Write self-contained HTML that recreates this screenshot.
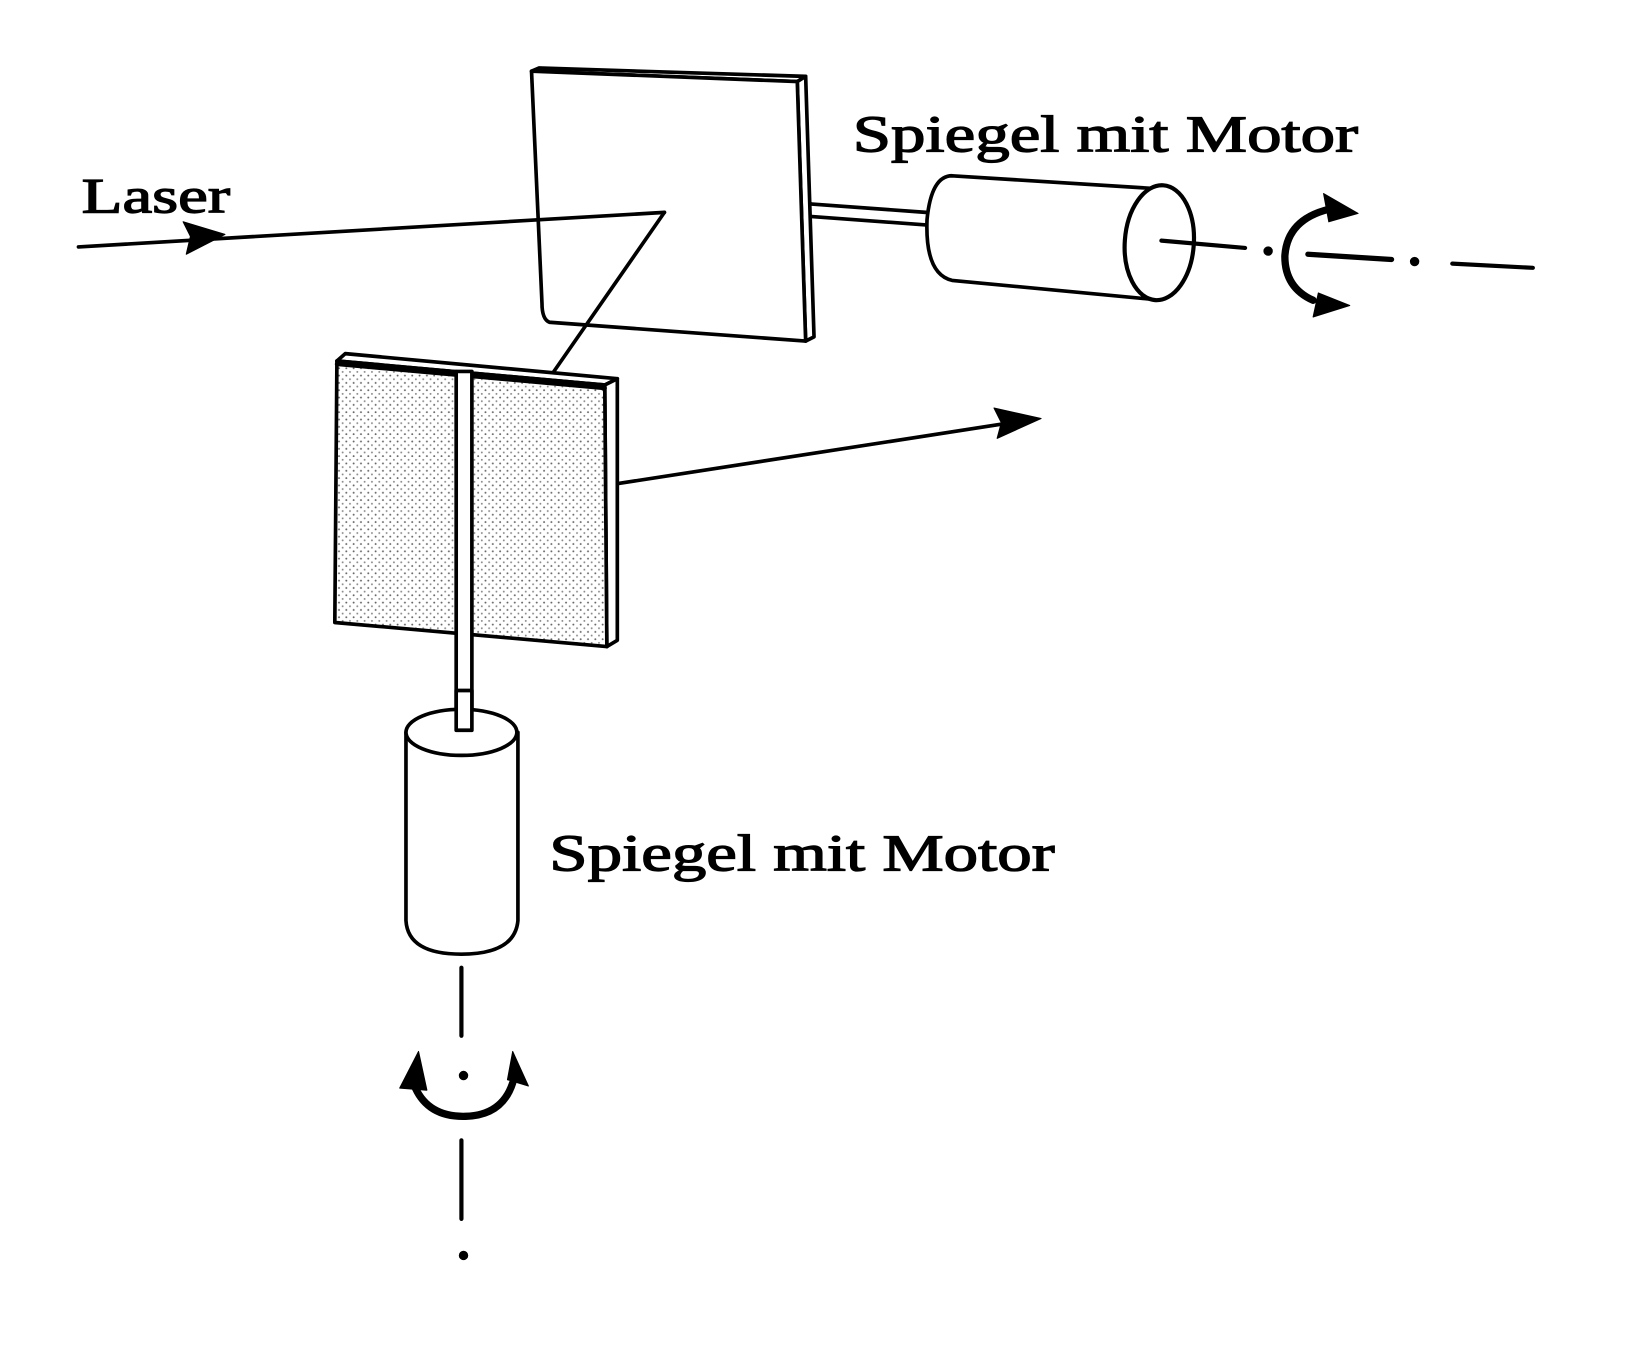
<!DOCTYPE html>
<html><head><meta charset="utf-8"><style>html,body{margin:0;padding:0;background:#fff}svg{display:block}</style></head>
<body>
<svg width="1627" height="1358" viewBox="0 0 1555 1298" preserveAspectRatio="none" xmlns="http://www.w3.org/2000/svg">
<defs>
<pattern id="dots" width="7" height="7" patternUnits="userSpaceOnUse"><rect width="7" height="7" fill="#fff"/><circle cx="2" cy="2" r="0.9" fill="#666"/><circle cx="5.5" cy="5.5" r="0.9" fill="#888"/></pattern>
</defs>
<g fill="none" stroke="#000" stroke-linejoin="round" stroke-linecap="round">
<polygon points="508,68 515,65 770,73 762,78" fill="#fff" stroke-width="3.5"/>
<polygon points="762,78 770,73 778,322 770,326" fill="#fff" stroke-width="3.5"/>
<path d="M508,68 L762,78 L770,326 L525,308 Q518,305 518,290 Z" fill="#fff" stroke-width="3.5"/>
<line x1="776" y1="195" x2="885" y2="203" stroke-width="3.5"/>
<line x1="776" y1="207" x2="885" y2="215" stroke-width="3.5"/>
<line x1="75" y1="236" x2="635" y2="203" stroke-width="3.5"/>
<polygon points="215,224 175,212 182,226 178,243" fill="#000" stroke-width="1"/>
<line x1="635" y1="203" x2="528" y2="357" stroke-width="3.5"/>
<path d="M1100,180 L910,168 Q890,168 886,210 Q884,262 910,268 L1100,286" fill="#fff" stroke-width="3.5"/>
<ellipse cx="1108" cy="232" rx="33" ry="55" transform="rotate(4 1108 232)" fill="#fff" stroke-width="4"/>
<line x1="1110" y1="230" x2="1190" y2="237" stroke-width="4"/>
<circle cx="1212" cy="240" r="4" fill="#000"/>
<line x1="1250" y1="243" x2="1330" y2="248" stroke-width="5"/>
<circle cx="1352" cy="250" r="4" fill="#000"/>
<line x1="1388" y1="252" x2="1465" y2="256" stroke-width="4"/>
<path d="M1270,200 Q1230,210 1228,245 Q1228,275 1255,287" stroke-width="7"/>
<polygon points="1298,204 1265,185 1270,212" fill="#000" stroke-width="1"/>
<polygon points="1290,292 1260,280 1255,303" fill="#000" stroke-width="1"/>
<polygon points="322,345 330,338 590,362 578,368" fill="#fff" stroke-width="3.5"/>
<polygon points="578,368 590,362 590,612 580,618" fill="#fff" stroke-width="3.5"/>
<polygon points="322,345 578,368 580,618 320,595" fill="url(#dots)" stroke-width="3.5"/>
<line x1="322" y1="348" x2="578" y2="371" stroke-width="4"/>
<line x1="592" y1="462" x2="960" y2="405" stroke-width="3.5"/>
<polygon points="995,400 950,390 957,404 953,419" fill="#000" stroke-width="1"/>
<rect x="436" y="355" width="15" height="340" fill="#fff" stroke-width="3.5"/>
<path d="M388,700 L388,880 Q390,912 441,912 Q492,912 495,880 L495,700" fill="#fff" stroke-width="3.5"/>
<ellipse cx="441" cy="700" rx="53" ry="22" fill="#fff" stroke-width="3.5"/>
<rect x="436" y="660" width="15" height="38" fill="#fff" stroke-width="3.5"/>
<line x1="441" y1="925" x2="441" y2="990" stroke-width="4"/>
<circle cx="443" cy="1028" r="4" fill="#000"/>
<line x1="441" y1="1090" x2="441" y2="1165" stroke-width="4"/>
<circle cx="443" cy="1200" r="4" fill="#000"/>
<path d="M397,1040 Q410,1068 445,1067 Q480,1066 490,1035" stroke-width="7"/>
<polygon points="382,1040 400,1005 408,1042" fill="#000" stroke-width="1"/>
<polygon points="505,1038 485,1032 490,1005" fill="#000" stroke-width="1"/>
</g>
<g font-family="'Liberation Serif', serif" fill="#000" stroke="#000" stroke-width="1.2">
<text x="78" y="203" font-size="48" textLength="142" lengthAdjust="spacingAndGlyphs">Laser</text>
<text x="815" y="145" font-size="50" textLength="483" lengthAdjust="spacingAndGlyphs">Spiegel mit Motor</text>
<text x="525" y="832" font-size="50" textLength="483" lengthAdjust="spacingAndGlyphs">Spiegel mit Motor</text>
</g>
</svg>
</body></html>
